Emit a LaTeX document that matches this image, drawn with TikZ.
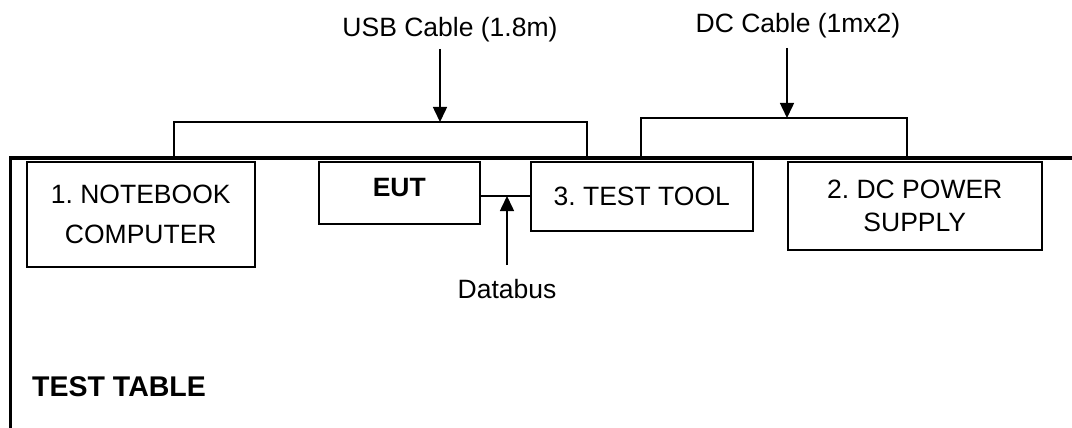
\documentclass[tikz,border=0pt]{standalone}
\usepackage{fontspec}
\setmainfont{Liberation Sans}
\usetikzlibrary{arrows.meta}
\frenchspacing

\begin{document}
\begin{tikzpicture}[
  x=1pt, y=-1pt, >={Triangle[length=15pt,width=14pt]},
  font=\fontsize{26.5}{32}\selectfont,
  unit/.style={draw, line width=1.5pt, anchor=north west, inner sep=0pt,
               align=center},
  lbl/.style={inner sep=0pt, anchor=base},
  wire/.style={line width=1.5pt},
  arr/.style={->, line width=1.5pt},
  tabletop/.style={line width=3.2pt},
]
  \useasboundingbox (0,0) rectangle (1072,428);
  % edge of the test table
  \draw[tabletop] (1072,158) -- (10.5,158) -- (10.5,428);
  \node[lbl, anchor=base west, font=\fontsize{28.5}{32}\selectfont\bfseries] (tbl) at (32,396) {TEST TABLE};

  % units on the table
  \node[unit, minimum width=228pt, minimum height=105pt] (nb) at (26,161) {1. NOTEBOOK\\[8pt]COMPUTER};
  \node[unit, minimum width=161pt, minimum height=62pt, text height=19pt, text depth=12pt] (eut) at (318,161) {\textbf{EUT}};
  \node[unit, minimum width=222pt, minimum height=69pt] (tool) at (530,161) {3. TEST TOOL};
  \node[unit, minimum width=254pt, minimum height=88pt] (psu) at (787,161) {2. DC POWER\\[1pt]SUPPLY};

  % USB cable
  \coordinate (usbL) at (174,158);
  \coordinate (usbR) at (587,158);
  \coordinate (usbmid) at (440,122);
  \coordinate (usbtail) at (440,49);
  \draw[wire] (usbL) |- (usbmid) -| (usbR);
  \node[lbl] (usb) at (450,37) {USB Cable (1.8m)};
  \draw[arr] (usbtail) -- (usbmid);

  % DC cable
  \coordinate (dcL) at (641,158);
  \coordinate (dcR) at (907,158);
  \coordinate (dcmid) at (787,118);
  \coordinate (dctail) at (787,48);
  \draw[wire] (dcL) |- (dcmid) -| (dcR);
  \node[lbl] (dc) at (798,33) {DC Cable (1mx2)};
  \draw[arr] (dctail) -- (dcmid);

  % databus
  \coordinate (bus) at (507,196);
  \coordinate (bustail) at (507,265);
  \draw[wire] (eut.east |- bus) -- (tool.west |- bus);
  \draw[arr] (bustail) -- (bus);
  \node[lbl] (db) at (507,298) {Databus};
\end{tikzpicture}
\end{document}
